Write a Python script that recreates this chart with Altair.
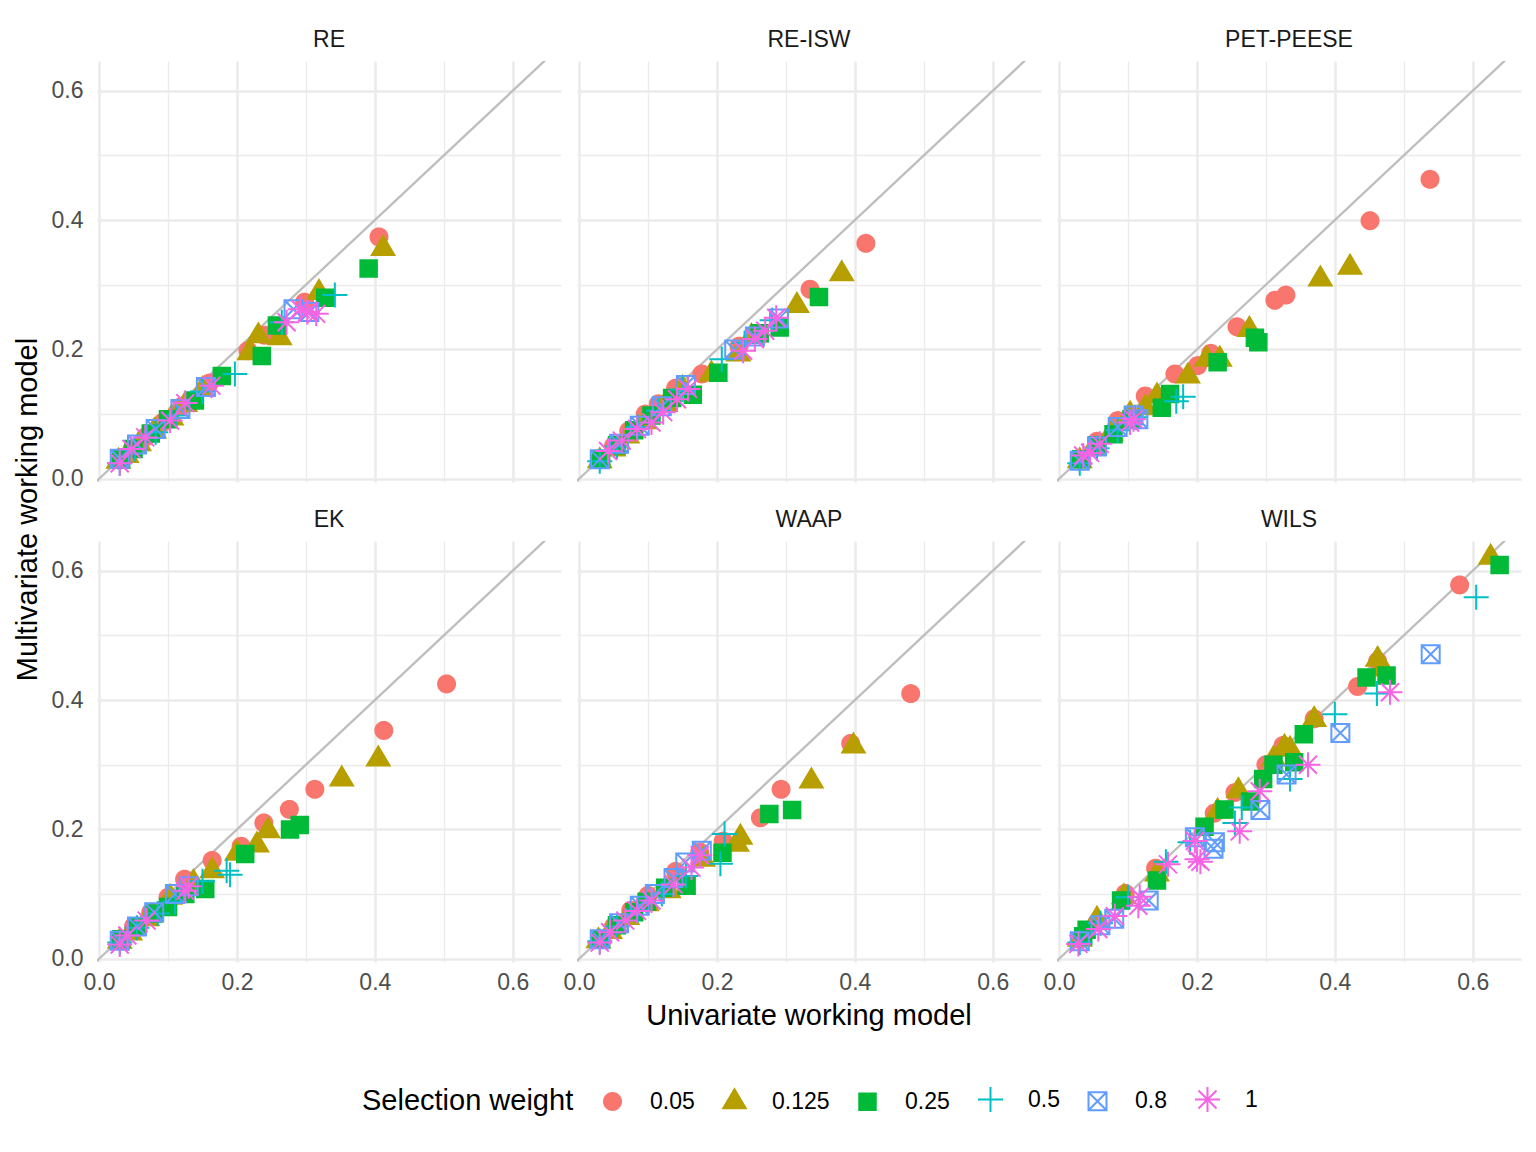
import altair as alt
import pandas as pd

METHODS = ["RE", "RE-ISW", "PET-PEESE", "EK", "WAAP", "WILS"]
WEIGHTS = ["0.05", "0.125", "0.25", "0.5", "0.8", "1"]
COLORS = ["#F8766D", "#B79F00", "#00BA38", "#00BFC4", "#619CFF", "#F564E3"]
TICKS = [0.0, 0.1, 0.2, 0.3, 0.4, 0.5, 0.6]

RE = {
    "0.05": [(0.030, 0.029), (0.048, 0.046), (0.068, 0.065), (0.092, 0.087), (0.120, 0.112), (0.160, 0.148), (0.216, 0.198), (0.240, 0.222), (0.298, 0.273), (0.406, 0.374)],
    "0.125": [(0.028, 0.027), (0.040, 0.036), (0.058, 0.054), (0.080, 0.074), (0.105, 0.094), (0.125, 0.115), (0.150, 0.138), (0.218, 0.195), (0.231, 0.221), (0.262, 0.218), (0.319, 0.288), (0.412, 0.356)],
    "0.25": [(0.032, 0.030), (0.050, 0.046), (0.075, 0.070), (0.100, 0.092), (0.139, 0.121), (0.178, 0.159), (0.236, 0.190), (0.258, 0.237), (0.328, 0.280), (0.391, 0.325)],
    "0.5": [(0.030, 0.024), (0.052, 0.046), (0.082, 0.072), (0.112, 0.098), (0.150, 0.135), (0.197, 0.162), (0.265, 0.242), (0.342, 0.284)],
    "0.8": [(0.030, 0.031), (0.055, 0.053), (0.082, 0.077), (0.118, 0.108), (0.155, 0.142), (0.282, 0.262), (0.305, 0.258)],
    "1": [(0.030, 0.024), (0.047, 0.046), (0.067, 0.064), (0.103, 0.090), (0.125, 0.117), (0.163, 0.144), (0.272, 0.242), (0.292, 0.262), (0.302, 0.258), (0.315, 0.255)],
}
RE_ISW = {
    "0.05": [(0.030, 0.031), (0.050, 0.051), (0.072, 0.074), (0.096, 0.100), (0.115, 0.116), (0.140, 0.140), (0.178, 0.162), (0.232, 0.205), (0.335, 0.293), (0.416, 0.364)],
    "0.125": [(0.030, 0.028), (0.050, 0.046), (0.070, 0.066), (0.095, 0.088), (0.125, 0.115), (0.150, 0.140), (0.192, 0.162), (0.231, 0.193), (0.250, 0.220), (0.316, 0.268), (0.381, 0.317)],
    "0.25": [(0.032, 0.030), (0.055, 0.052), (0.080, 0.075), (0.105, 0.098), (0.135, 0.125), (0.165, 0.130), (0.202, 0.164), (0.262, 0.225), (0.291, 0.234), (0.348, 0.281)],
    "0.5": [(0.030, 0.027), (0.055, 0.050), (0.085, 0.080), (0.115, 0.105), (0.150, 0.138), (0.207, 0.185), (0.240, 0.210), (0.280, 0.245)],
    "0.8": [(0.030, 0.030), (0.058, 0.054), (0.088, 0.082), (0.120, 0.112), (0.155, 0.145), (0.225, 0.200), (0.255, 0.220), (0.290, 0.248)],
    "1": [(0.042, 0.043), (0.062, 0.059), (0.084, 0.077), (0.105, 0.087), (0.122, 0.103), (0.142, 0.123), (0.158, 0.139), (0.238, 0.198), (0.255, 0.216), (0.270, 0.229), (0.286, 0.249)],
}
PET_PEESE = {
    "0.05": [(0.030, 0.030), (0.055, 0.058), (0.085, 0.090), (0.125, 0.128), (0.168, 0.162), (0.201, 0.175), (0.220, 0.194), (0.258, 0.235), (0.313, 0.276), (0.329, 0.284), (0.451, 0.399), (0.538, 0.463)],
    "0.125": [(0.030, 0.028), (0.050, 0.048), (0.075, 0.070), (0.103, 0.100), (0.125, 0.110), (0.142, 0.128), (0.187, 0.159), (0.214, 0.185), (0.233, 0.185), (0.276, 0.231), (0.379, 0.309), (0.422, 0.327)],
    "0.25": [(0.032, 0.030), (0.055, 0.052), (0.079, 0.069), (0.105, 0.092), (0.149, 0.110), (0.161, 0.131), (0.230, 0.180), (0.284, 0.218), (0.289, 0.211)],
    "0.5": [(0.030, 0.024), (0.055, 0.047), (0.085, 0.075), (0.110, 0.095), (0.170, 0.120), (0.180, 0.127)],
    "0.8": [(0.030, 0.028), (0.055, 0.050), (0.085, 0.080), (0.108, 0.098), (0.115, 0.092)],
    "1": [(0.035, 0.036), (0.045, 0.040), (0.059, 0.054), (0.103, 0.087), (0.108, 0.092)],
}
EK = {
    "0.05": [(0.030, 0.030), (0.050, 0.050), (0.075, 0.072), (0.100, 0.095), (0.124, 0.123), (0.164, 0.152), (0.206, 0.174), (0.239, 0.210), (0.276, 0.231), (0.313, 0.262), (0.413, 0.353), (0.504, 0.425)],
    "0.125": [(0.030, 0.027), (0.045, 0.040), (0.070, 0.062), (0.103, 0.095), (0.137, 0.118), (0.164, 0.136), (0.200, 0.163), (0.229, 0.176), (0.245, 0.198), (0.352, 0.278), (0.405, 0.309)],
    "0.25": [(0.032, 0.030), (0.055, 0.050), (0.080, 0.070), (0.100, 0.080), (0.125, 0.100), (0.154, 0.108), (0.212, 0.162), (0.277, 0.200), (0.291, 0.207)],
    "0.5": [(0.030, 0.025), (0.055, 0.048), (0.085, 0.070), (0.110, 0.088), (0.150, 0.120), (0.185, 0.136), (0.190, 0.130)],
    "0.8": [(0.030, 0.028), (0.055, 0.050), (0.080, 0.072), (0.110, 0.100), (0.130, 0.112)],
    "1": [(0.030, 0.022), (0.041, 0.036), (0.069, 0.059), (0.125, 0.105), (0.130, 0.112)],
}
WAAP = {
    "0.05": [(0.030, 0.030), (0.050, 0.050), (0.075, 0.075), (0.100, 0.098), (0.140, 0.135), (0.175, 0.165), (0.209, 0.182), (0.263, 0.218), (0.293, 0.262), (0.394, 0.333), (0.481, 0.410)],
    "0.125": [(0.028, 0.028), (0.045, 0.042), (0.070, 0.064), (0.098, 0.085), (0.130, 0.105), (0.180, 0.154), (0.229, 0.177), (0.234, 0.188), (0.337, 0.275), (0.398, 0.329)],
    "0.25": [(0.032, 0.030), (0.055, 0.052), (0.080, 0.072), (0.098, 0.088), (0.125, 0.110), (0.156, 0.113), (0.208, 0.164), (0.276, 0.224), (0.309, 0.230)],
    "0.5": [(0.030, 0.027), (0.055, 0.050), (0.085, 0.075), (0.120, 0.100), (0.155, 0.128), (0.205, 0.147), (0.211, 0.193)],
    "0.8": [(0.030, 0.030), (0.058, 0.055), (0.088, 0.082), (0.110, 0.100), (0.137, 0.125), (0.154, 0.149), (0.178, 0.167)],
    "1": [(0.030, 0.025), (0.045, 0.041), (0.067, 0.059), (0.084, 0.074), (0.105, 0.090), (0.137, 0.115), (0.163, 0.141), (0.175, 0.160)],
}
WILS = {
    "0.05": [(0.030, 0.030), (0.055, 0.056), (0.096, 0.101), (0.140, 0.140), (0.225, 0.225), (0.255, 0.257), (0.300, 0.300), (0.325, 0.330), (0.370, 0.371), (0.433, 0.421), (0.462, 0.460), (0.581, 0.578)],
    "0.125": [(0.030, 0.030), (0.055, 0.061), (0.094, 0.096), (0.142, 0.131), (0.230, 0.228), (0.260, 0.260), (0.311, 0.309), (0.327, 0.327), (0.335, 0.324), (0.370, 0.370), (0.462, 0.463), (0.468, 0.448), (0.626, 0.621)],
    "0.25": [(0.035, 0.035), (0.040, 0.045), (0.090, 0.090), (0.142, 0.121), (0.211, 0.204), (0.240, 0.231), (0.277, 0.243), (0.296, 0.278), (0.311, 0.300), (0.341, 0.304), (0.355, 0.347), (0.446, 0.435), (0.475, 0.438), (0.639, 0.609)],
    "0.5": [(0.030, 0.025), (0.060, 0.055), (0.100, 0.095), (0.155, 0.150), (0.190, 0.180), (0.255, 0.210), (0.265, 0.234), (0.335, 0.278), (0.400, 0.378), (0.461, 0.410), (0.605, 0.559)],
    "0.8": [(0.030, 0.027), (0.060, 0.052), (0.080, 0.062), (0.130, 0.090), (0.197, 0.188), (0.224, 0.170), (0.226, 0.180), (0.292, 0.230), (0.330, 0.285), (0.408, 0.349), (0.539, 0.471)],
    "1": [(0.028, 0.023), (0.057, 0.046), (0.081, 0.066), (0.115, 0.082), (0.117, 0.096), (0.158, 0.146), (0.197, 0.182), (0.200, 0.154), (0.205, 0.150), (0.262, 0.197), (0.291, 0.259), (0.361, 0.300), (0.480, 0.412)],
}
PANELS = [RE, RE_ISW, PET_PEESE, EK, WAAP, WILS]

X_DOMAIN = [-0.003, 0.670]
Y_DOMAIN = [-0.005, 0.646]
DIAG = [-0.05, 0.70]

# point shapes (unit paths, scaled by sqrt(size)/2)
def poly_circle(r, n=36):
    import math
    pts = [(r * math.cos(2 * math.pi * i / n), r * math.sin(2 * math.pi * i / n)) for i in range(n)]
    return "M" + "L".join(f"{a:.3f},{b:.3f}" for a, b in pts) + "Z"

b = 0.72
SHAPES = [
    poly_circle(0.68),
    "M0,-1.0L0.9,0.52L-0.9,0.52Z",
    "M-0.66,-0.66L0.66,-0.66L0.66,0.66L-0.66,0.66Z",
    "M-1,0L1,0M0,-1L0,1",
    f"M-{b},-{b}L{b},-{b}L{b},{b}L-{b},{b}ZM-{b},-{b}L{b},{b}M-{b},{b}L{b},-{b}",
    f"M-1,0L1,0M0,-1L0,1M-{b},-{b}L{b},{b}M-{b},{b}L{b},-{b}",
]
FILLS = [COLORS[0], COLORS[1], COLORS[2], "transparent", "transparent", "transparent"]

rows = []
for m, panel in zip(METHODS, PANELS):
    for w in WEIGHTS:
        for (x, y) in panel[w]:
            rows.append({"method": m, "weight": w, "x": x, "y": y, "kind": "pt"})
    for v in DIAG:
        rows.append({"method": m, "weight": "0.05", "x": v, "y": v, "kind": "diag"})
df = pd.DataFrame(rows)

grid_w = {"condition": {"test": "round(datum.value*10) % 2 === 0", "value": 2.6}, "value": 1.3}
lab = "round(datum.value*10) % 2 === 0 ? format(datum.value, '.1f') : ''"

x_axis = alt.Axis(values=TICKS, labelExpr=lab, ticks=False, domain=False, grid=True,
                  gridColor="#EBEBEB", gridWidth=grid_w, labelFontSize=23, labelColor="#4D4D4D",
                  labelPadding=9, labelFlush=False, labelOverlap=False, title=None)
y_axis = alt.Axis(values=TICKS, labelExpr=lab, ticks=False, domain=False, grid=True,
                  gridColor="#EBEBEB", gridWidth=grid_w, labelFontSize=23, labelColor="#4D4D4D",
                  labelPadding=14, labelOverlap=False, title=None)

xenc = alt.X("x:Q", scale=alt.Scale(domain=X_DOMAIN, nice=False, zero=False), axis=x_axis)
yenc = alt.Y("y:Q", scale=alt.Scale(domain=Y_DOMAIN, nice=False, zero=False), axis=y_axis)

leg = alt.Legend(title="Selection weight", orient="none", direction="horizontal",
                 legendX=265, legendY=1025, titleOrient="left", titleFontSize=29,
                 titleFontWeight="normal", titleColor="black", titleLimit=600,
                 labelFontSize=23, labelColor="black", symbolSize=625, symbolStrokeWidth=2,
                 symbolFillColor="transparent", symbolStrokeColor="black",
                 labelOffset=24, columnPadding=24, titlePadding=25, symbolOpacity=1)

line = alt.Chart().mark_line(color="#BEBEBE", strokeWidth=2.3, clip=True).encode(
    x=xenc, y=yenc
).transform_filter(alt.datum.kind == "diag")

pts = alt.Chart().mark_point(filled=False, size=625, strokeWidth=2, opacity=1).encode(
    x=xenc, y=yenc,
    shape=alt.Shape("weight:N", scale=alt.Scale(domain=WEIGHTS, range=SHAPES), legend=leg),
    fill=alt.Fill("weight:N", scale=alt.Scale(domain=WEIGHTS, range=FILLS), legend=leg),
    stroke=alt.Stroke("weight:N", scale=alt.Scale(domain=WEIGHTS, range=COLORS), legend=leg),
).transform_filter(alt.datum.kind == "pt")

chart = alt.layer(line, pts, data=df).properties(width=464, height=421).facet(
    facet=alt.Facet("method:N", sort=METHODS, title="Univariate working model",
                    header=alt.Header(labelFontSize=23, labelColor="#1A1A1A", labelPadding=9,
                                      titleOrient="bottom", titleFontSize=29,
                                      titleFontWeight="normal", titleColor="black",
                                      titlePadding=8)),
    columns=3,
    spacing={"row": 26, "column": 16},
).properties(
    title=alt.TitleParams("Multivariate working model", orient="left", anchor="middle",
                          fontSize=29, fontWeight="normal", color="black", offset=8, dx=63),
    padding={"left": 6, "top": 21, "right": 5, "bottom": 5},
).configure(font="Liberation Sans").configure_view(stroke=None)

chart.save("out.html", embed_options={"renderer": "svg", "actions": False})
